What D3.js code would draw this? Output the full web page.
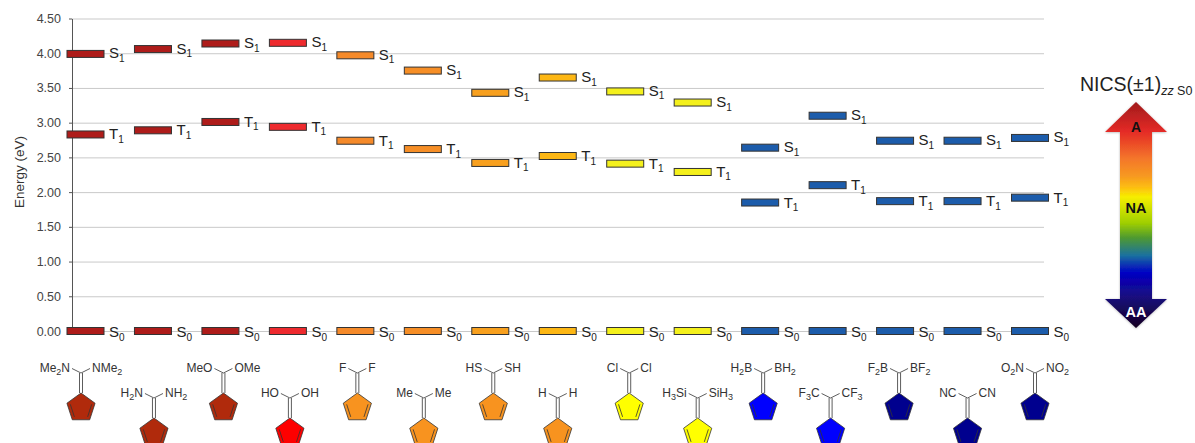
<!DOCTYPE html>
<html lang="en">
  <head>
    <meta charset="UTF-8" />
    <title>Energy levels and NICS(±1)zz of substituted fulvenes</title>
    <script src="https://d3js.org/d3.v7.min.js"></script>
    <style>
      body {
        margin: 0;
        padding: 0;
        background: #fff;
        font-family: "Liberation Sans", Arial, sans-serif;
      }
      svg {
        display: block;
      }
    </style>
  </head>
  <body>
    <svg width="1195" height="443"></svg>
    <script>
      // one entry per column
      const leftGroups = ["Me2N", "H2N", "MeO", "HO", "F", "Me", "HS", "H", "Cl", "H3Si", "H2B", "F3C", "F2B", "NC", "O2N"];
      const rightGroups = ["NMe2", "NH2", "OMe", "OH", "F", "Me", "SH", "H", "Cl", "SiH3", "BH2", "CF3", "BF2", "CN", "NO2"];

      const s0Values = [0, 0, 0, 0, 0, 0, 0, 0, 0, 0, 0, 0, 0, 0, 0];
      const t1Values = [2.83, 2.89, 3.01, 2.94, 2.74, 2.62, 2.42, 2.52, 2.41, 2.29, 1.85, 2.1, 1.87, 1.87, 1.92];
      const s1Values = [3.99, 4.06, 4.14, 4.15, 3.97, 3.75, 3.43, 3.65, 3.45, 3.29, 2.64, 3.1, 2.74, 2.74, 2.78];

      const yTicks = [0, 0.5, 1, 1.5, 2, 2.5, 3, 3.5, 4, 4.5];

      const barColors = ["#ae1c1a", "#ae1c1a", "#ae1c1a", "#ee2a2e", "#f58a2a", "#f68e26", "#f8a01e", "#fdb714", "#f4f01c", "#f4f01c", "#1c5cab", "#1c5cab", "#1c5cab", "#1c5cab", "#1c5cab"];
      const ringColors = ["#b02a0c", "#b02a0c", "#b02a0c", "#fe0000", "#f8931f", "#f8931f", "#f8931f", "#f8931f", "#ffff00", "#ffff00", "#0000fe", "#0000fe", "#00008e", "#00008e", "#00008e"];

      const levels = [
        { name: "S", sub: "0", values: s0Values, dy: 6 },
        { name: "T", sub: "1", values: t1Values, dy: 5 },
        { name: "S", sub: "1", values: s1Values, dy: 4.5 },
      ];

      // the structures do not sit exactly under their bars
      const molNudge = [-4.5, 1, 3, 2, 2, 1, 3, 0, 4, 5, 3, 3, 4, 5, 5];

      const svg = d3.select("svg");

      const y = d3.scaleLinear().domain([0, 4.5]).range([331, 18.5]);
      const x = d3
        .scalePoint()
        .domain(d3.range(leftGroups.length))
        .range([85.5, 1030]);

      const axisX = 72;
      const gridEnd = 1044;
      const barW = 37;
      const barH = 7;

      // grid
      svg
        .append("g")
        .attr("transform", `translate(${axisX},0)`)
        .call(d3.axisLeft(y).tickValues(yTicks).tickSize(-(gridEnd - axisX)).tickFormat(""))
        .call((g) => g.select(".domain").remove())
        .selectAll("line")
        .attr("stroke", "#c9c9c9")
        .attr("stroke-width", 1);

      // axis
      const yAxis = svg
        .append("g")
        .attr("transform", `translate(${axisX},0)`)
        .call(
          d3
            .axisLeft(y)
            .tickValues(yTicks)
            .tickSizeInner(3)
            .tickSizeOuter(0)
            .tickPadding(8)
            .tickFormat(d3.format(".2f"))
        );
      yAxis.selectAll("path,line").attr("stroke", "#555");
      yAxis
        .selectAll("text")
        .attr("fill", "#444")
        .attr("font-size", 12.5)
        .attr("font-family", "Liberation Sans");

      svg
        .append("text")
        .attr("transform", "translate(24,172) rotate(-90)")
        .attr("text-anchor", "middle")
        .attr("font-size", 13.5)
        .attr("fill", "#333")
        .text("Energy (eV)");

      // energy levels
      levels.forEach((level) => {
        const g = svg.append("g");
        g.selectAll("rect")
          .data(level.values)
          .join("rect")
          .attr("x", (d, i) => x(i) - barW / 2)
          .attr("y", (d) => y(d) - barH / 2)
          .attr("width", barW)
          .attr("height", barH)
          .attr("fill", (d, i) => barColors[i])
          .attr("stroke", "#333")
          .attr("stroke-width", 1);

        const label = g
          .selectAll("text")
          .data(level.values)
          .join("text")
          .attr("x", (d, i) => x(i) + barW / 2 + 5)
          .attr("y", (d) => y(d) + level.dy)
          .attr("font-size", 15)
          .attr("fill", "#222");
        label.append("tspan").text(level.name);
        label
          .append("tspan")
          .attr("dy", 3.5)
          .attr("font-size", 10)
          .text(level.sub);
      });

      // digits in a group name are subscripts
      function groupText(sel, name) {
        name.split(/(\d)/).forEach((part, i) => {
          if (!part) return;
          const t = sel.append("tspan").text(part);
          if (i % 2) {
            t.attr("font-size", 9).attr("dy", 2.5);
          } else if (i > 0) {
            t.attr("dy", -2.5);
          }
        });
      }

      // structures: alternate columns hang lower
      const ringR = 14.8;
      const ring = d3.range(5).map((k) => {
        const a = (k * 2 * Math.PI) / 5;
        return [ringR * Math.sin(a), -ringR * Math.cos(a)];
      });
      const line = d3.line();

      leftGroups.forEach((left, i) => {
        const mol = svg
          .append("g")
          .attr("transform", `translate(${x(i) + molNudge[i]},${i % 2 ? 398 : 373})`)
          .attr("fill", "none")
          .attr("stroke", "#333")
          .attr("stroke-width", 0.8);

        // substituent bonds
        mol.append("path").attr("d", line([[-9, -4.5], [0, 0], [9, -4.5]]));
        // exocyclic double bond
        mol.append("path").attr("d", line([[-1.5, 0], [-1.5, 20]]));
        mol.append("path").attr("d", line([[1.5, 0], [1.5, 20]]));

        const ringG = mol.append("g").attr("transform", `translate(0,${20 + ringR})`);
        ringG
          .append("path")
          .attr("d", line(ring) + "Z")
          .attr("fill", ringColors[i]);
        // ring double bonds
        [[1, 2], [3, 4]].forEach(([a, b]) => {
          const inner = [ring[a], ring[b]].map((p) => [p[0] * 0.76, p[1] * 0.76]);
          ringG.append("path").attr("d", line(inner));
        });

        const labels = mol
          .append("g")
          .attr("stroke", "none")
          .attr("fill", "#333")
          .attr("font-size", 12);
        const l = labels.append("text").attr("x", -11).attr("y", -1).attr("text-anchor", "end");
        groupText(l, left);
        const r = labels.append("text").attr("x", 11).attr("y", -1);
        groupText(r, rightGroups[i]);
      });

      // NICS colour arrow
      const arrowStops = [
        [0, "#a01a1c"],
        [0.13, "#e42a26"],
        [0.25, "#f4762a"],
        [0.33, "#f79a20"],
        [0.38, "#fdc010"],
        [0.42, "#f6ee00"],
        [0.535, "#a0cf00"],
        [0.6, "#4f9a30"],
        [0.68, "#1a70a0"],
        [0.755, "#0000c4"],
        [0.86, "#1a0c80"],
        [1, "#120020"],
      ];
      const defs = svg.append("defs");
      const grad = defs
        .append("linearGradient")
        .attr("id", "nics")
        .attr("x1", 0)
        .attr("x2", 0)
        .attr("y1", 0)
        .attr("y2", 1);
      grad
        .selectAll("stop")
        .data(arrowStops)
        .join("stop")
        .attr("offset", (d) => d[0])
        .attr("stop-color", (d) => d[1]);
      defs
        .append("filter")
        .attr("id", "soft")
        .append("feDropShadow")
        .attr("dx", 0)
        .attr("dy", 0.5)
        .attr("stdDeviation", 1.2)
        .attr("flood-opacity", 0.3);

      const arrowX = 1136;
      svg
        .append("path")
        .attr(
          "d",
          line([
            [arrowX, 102],
            [arrowX + 31, 132],
            [arrowX + 16, 132],
            [arrowX + 16, 299],
            [arrowX + 31, 299],
            [arrowX, 328],
            [arrowX - 31, 299],
            [arrowX - 16, 299],
            [arrowX - 16, 132],
            [arrowX - 31, 132],
          ]) + "Z"
        )
        .attr("fill", "url(#nics)")
        .attr("filter", "url(#soft)");

      [
        { text: "A", y: 132, fill: "#111", size: 14 },
        { text: "NA", y: 213, fill: "#111", size: 14.5 },
        { text: "AA", y: 317, fill: "#fff", size: 14.5 },
      ].forEach((d) => {
        svg
          .append("text")
          .attr("x", arrowX)
          .attr("y", d.y)
          .attr("text-anchor", "middle")
          .attr("font-size", d.size)
          .attr("font-weight", "bold")
          .attr("fill", d.fill)
          .text(d.text);
      });

      const title = svg
        .append("text")
        .attr("x", 1080)
        .attr("y", 91)
        .attr("font-size", 19.5)
        .attr("fill", "#222");
      title.append("tspan").text("NICS(±1)");
      title
        .append("tspan")
        .attr("dy", 4)
        .attr("font-size", 12.5)
        .attr("font-style", "italic")
        .text("zz");
      title
        .append("tspan")
        .attr("font-size", 12.5)
        .text(" S0");
    </script>
  </body>
</html>
